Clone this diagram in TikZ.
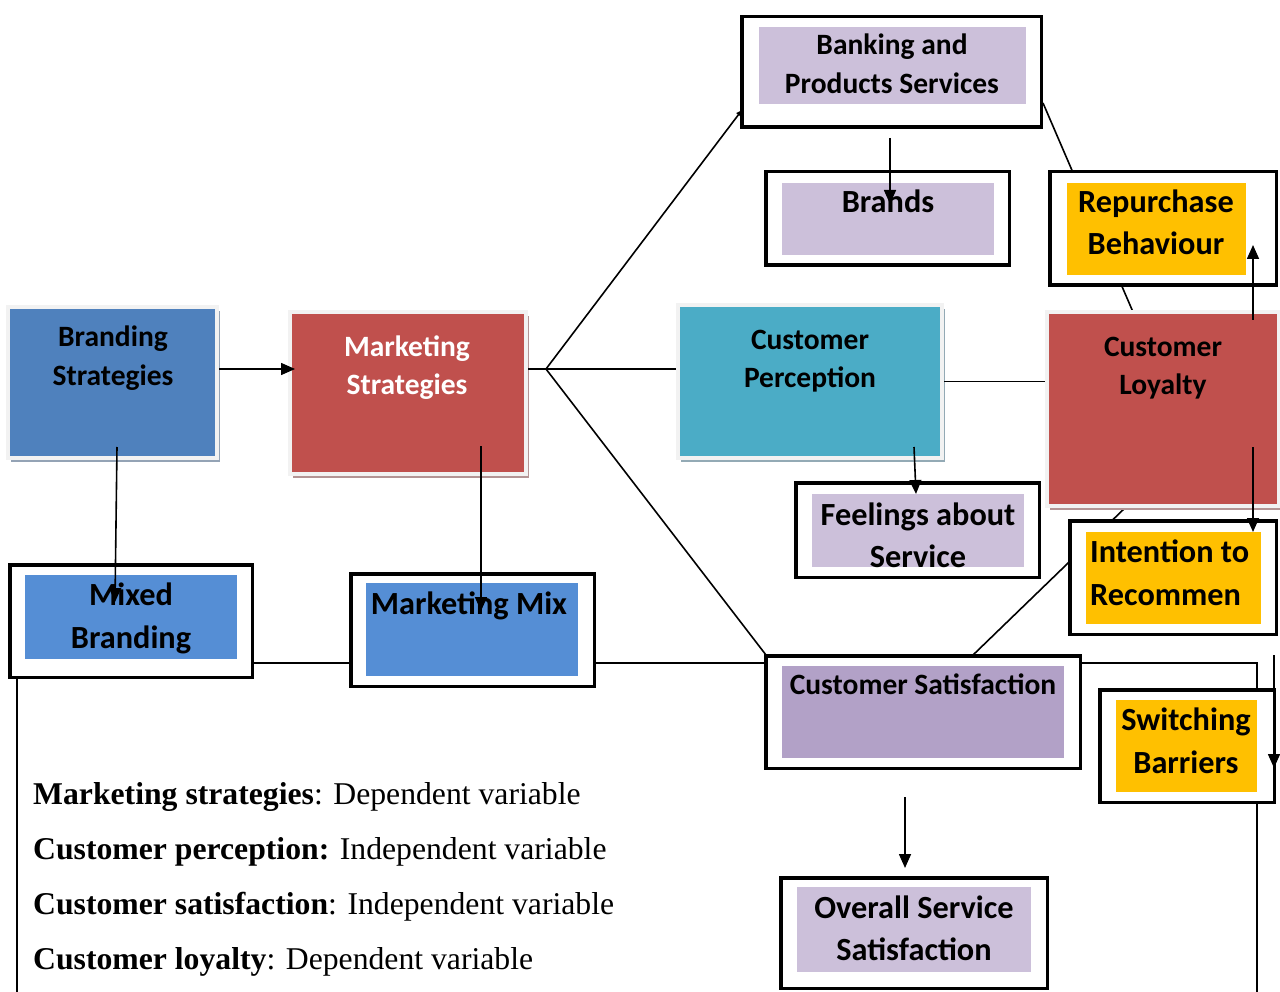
\documentclass[tikz,border=0pt]{standalone}
\usepackage{fontspec}
\setmainfont{Carlito}
\newfontfamily\legendfont{Liberation Serif}
\usetikzlibrary{arrows.meta,calc,shadows}
\definecolor{blueA}{HTML}{4F81BD}
\definecolor{blueB}{HTML}{558ED5}
\definecolor{redA}{HTML}{C0504D}
\definecolor{tealA}{HTML}{4BACC6}
\definecolor{lavA}{HTML}{CCC0DA}
\definecolor{purA}{HTML}{B2A1C7}
\definecolor{goldA}{HTML}{FFC000}
\definecolor{frameGray}{HTML}{F2F2F2}
\definecolor{shBlue}{HTML}{94A3B5}
\definecolor{shRed}{HTML}{B39494}
\definecolor{shTeal}{HTML}{93AAB5}
\begin{document}
\begin{tikzpicture}[x=1pt,y=-1pt,
  sbox/.style n args={2}{fill=#1, draw=frameGray, line width=4pt, inner sep=0pt,
     general shadow={fill=#2, shadow xshift=3pt, shadow yshift=-4pt}},
  bbox/.style={draw=black, line width=3.5pt, fill=white, inner sep=0pt},
  ibox/.style={fill=#1, draw=none, inner sep=0pt},
  txt/.style={font=\fontsize{29.5}{35}\selectfont\bfseries, anchor=base, inner sep=0pt},
  btxt/.style={font=\fontsize{32.3}{38}\selectfont\bfseries, anchor=base, inner sep=0pt},
  leg/.style={font=\legendfont\fontsize{31.7}{38}\selectfont, anchor=base west, inner sep=0pt},
  conn/.style={draw=black, line width=1.6pt},
  arr/.style={conn, -{Triangle[length=14pt,width=12pt]}},
  arrsmall/.style={conn, -{Triangle[length=6pt,width=5pt]}}
]
\useasboundingbox[fill=white] (0,0) rectangle (1280,992);

\coordinate (fork) at (546,369);
\coordinate (busY) at (0,663);
\coordinate (loopL) at (17,992);
\coordinate (loopR) at (1257,992);

\path (112.5,382.5) coordinate (bsC) (408,393) coordinate (msC)
      (810,381.5) coordinate (cpC) (1163,409) coordinate (clC);

% ---- shadowed boxes ----
\node[sbox={blueA}{shBlue}, minimum width=209pt, minimum height=151pt] (bs) at (bsC) {};
\node[sbox={redA}{shRed}, minimum width=236pt, minimum height=162pt] (ms) at (msC) {};
\node[sbox={tealA}{shTeal}, minimum width=264pt, minimum height=153pt] (cp) at (cpC) {};

% ---- connectors behind the other boxes ----
\draw[conn] (ms.east |- fork) -- (fork);
\draw[conn] (fork) -- (cp.west |- fork);
\draw[arrsmall] (fork) -- (742,110) coordinate (bankIn);
\draw[conn] (fork) -- (766,655) coordinate (csatIn);
\draw[conn] (cp.east) -- ++(101,0) coordinate (clIn);
\draw[conn] (1043,103) coordinate (bankOut) -- (1133,312) coordinate (clTop);
\draw[conn] (1127,506) coordinate (clBot) -- (972,656) coordinate (csatTop);
\draw[conn] (loopL) |- (loopR |- busY) -- (loopR);

\node[sbox={redA}{shRed}, minimum width=232pt, minimum height=194pt] (cl) at (clC) {};

% ---- bordered boxes ----
\node[bbox, minimum width=299.5pt, minimum height=110.5pt] (bank) at (891.5,72) {};
\node[ibox=lavA, minimum width=267pt, minimum height=77pt] (bankI) at (892.5,65.5) {};
\node[bbox, minimum width=243.5pt, minimum height=93.5pt] (brands) at (887.5,218.5) {};
\node[ibox=lavA, minimum width=212pt, minimum height=72pt] (brandsI) at (888,219) {};
\node[bbox, minimum width=226.5pt, minimum height=113.5pt] (rep) at (1163,228.5) {};
\node[ibox=goldA, minimum width=179pt, minimum height=92pt] (repI) at (1156.5,229) {};
\node[bbox, minimum width=243.5pt, minimum height=94.5pt] (feel) at (917.5,530) {};
\node[ibox=lavA, minimum width=212pt, minimum height=73pt] (feelI) at (918,530.5) {};
\node[bbox, minimum width=206.5pt, minimum height=113.5pt] (intent) at (1173,577.5) {};
\node[ibox=goldA, minimum width=175pt, minimum height=92pt] (intentI) at (1173.5,578) {};
\node[bbox, minimum width=242.5pt, minimum height=112.5pt] (mixed) at (131,621) {};
\node[ibox=blueB, minimum width=212pt, minimum height=84pt] (mixedI) at (131,617) {};
\node[bbox, minimum width=243.5pt, minimum height=112.5pt] (mmix) at (472.5,630) {};
\node[ibox=blueB, minimum width=212pt, minimum height=93pt] (mmixI) at (472,629.5) {};
\node[bbox, minimum width=314.5pt, minimum height=112.5pt] (csat) at (923,712) {};
\node[ibox=purA, minimum width=282pt, minimum height=92pt] (csatI) at (923,712) {};
\node[bbox, minimum width=174.5pt, minimum height=112.5pt] (sw) at (1187,746) {};
\node[ibox=goldA, minimum width=141pt, minimum height=92pt] (swI) at (1186.5,746) {};
\node[bbox, minimum width=266.5pt, minimum height=110.5pt] (ovr) at (914,933) {};
\node[ibox=lavA, minimum width=234pt, minimum height=85pt] (ovrI) at (914,929.5) {};

% ---- texts ----
\node[txt] (bsT1) at (113,347) {Branding};
\node[txt] (bsT2) at (113,385) {Strategies};
\node[txt,text=white] (msT1) at (407,356) {Marketing};
\node[txt,text=white] (msT2) at (407,394) {Strategies};
\node[txt] (cpT1) at (810,349) {Customer};
\node[txt] (cpT2) at (810,387) {Perception};
\node[txt] (clT1) at (1163,356) {Customer};
\node[txt] (clT2) at (1163,394) {Loyalty};
\node[txt] (bankT1) at (892,55) {Banking and};
\node[txt] (bankT2) at (892,94) {Products Services};
\node[btxt] (brandsT) at (888,213) {Brands};
\node[btxt] (repT1) at (1156,213) {Repurchase};
\node[btxt] (repT2) at (1156,255) {Behaviour};
\node[btxt] (feelT1) at (918,525) {Feelings about};
\node[btxt] (feelT2) at (918,567) {Service};
\node[btxt,anchor=base west] (intentT1) at (1090,562) {Intention to};
\node[btxt,anchor=base west] (intentT2) at (1090,605) {Recommen};
\node[btxt] (mixedT1) at (131,605) {Mixed};
\node[btxt] (mixedT2) at (131,648) {Branding};
\node[btxt] (mmixT) at (469,614) {Marketing Mix};
\node[txt] (csatT) at (923,694) {Customer Satisfaction};
\node[btxt] (swT1) at (1186,730) {Switching};
\node[btxt] (swT2) at (1186,773) {Barriers};
\node[btxt] (ovrT1) at (914,918) {Overall Service};
\node[btxt] (ovrT2) at (914,960) {Satisfaction};

\node[leg] (l1) at (33,804) {\textbf{Marketing strategies}: Dependent variable};
\node[leg] (l2) at (33,859) {\textbf{Customer perception:} Independent variable};
\node[leg] (l3) at (33,914) {\textbf{Customer satisfaction}: Independent variable};
\node[leg] (l4) at (33,969) {\textbf{Customer loyalty}: Dependent variable};

% ---- arrows on top ----
\draw[arr] (bs.east |- fork) -- ([xshift=7pt]ms.west |- fork);
\draw[arr] (117,447) coordinate (bsDown) -- (115,602) coordinate (mixedIn);
\draw[arr] (481,446) coordinate (msDown) -- (481,611) coordinate (mmixIn);
\draw[arr] (890,138) coordinate (bankDown) -- (890,204) coordinate (brandsIn);
\draw[arr] (914,447) coordinate (cpDown) -- (916,494) coordinate (feelIn);
\draw[arr] (905,797) coordinate (csatDown) -- (905,868) coordinate (ovrIn);
\draw[arr] (1253,320) coordinate (clUp) -- (1253,245) coordinate (repIn);
\draw[arr] (1253,447) coordinate (clDown) -- (1253,532) coordinate (intentIn);
\draw[arr] (1274,655) coordinate (freeTop) -- (1274,768) coordinate (swIn);
\end{tikzpicture}
\end{document}
